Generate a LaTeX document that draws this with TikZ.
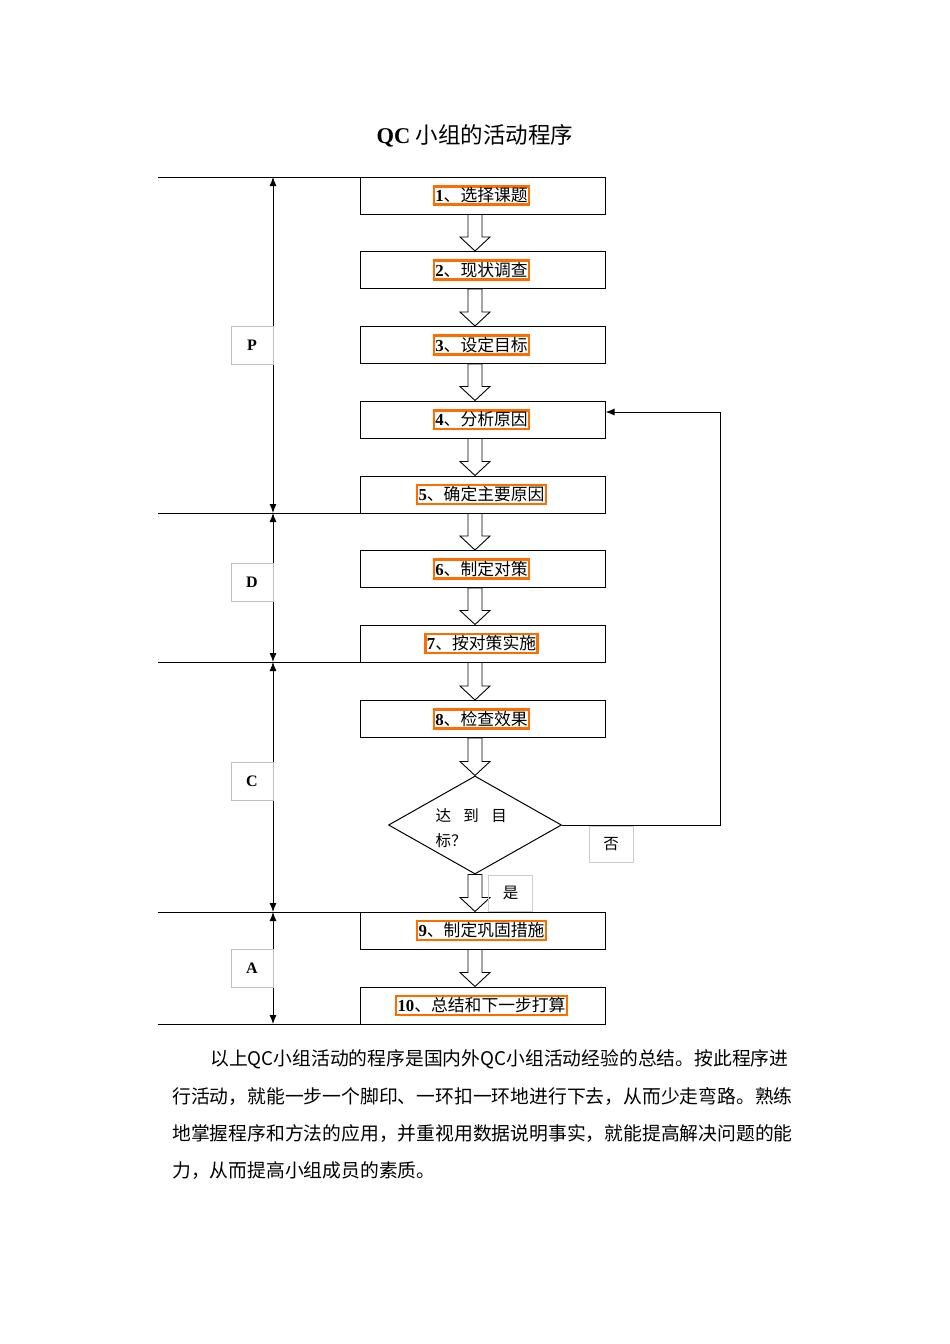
\documentclass[tikz,border=0pt]{standalone}
\usepackage{fontspec}
\setmainfont{Liberation Serif}
\newfontfamily\cjk{Noto Sans CJK SC}
\usetikzlibrary{shapes.geometric,calc,arrows.meta}
\tikzset{
 stepbox/.style={draw,line width=1pt,minimum width=245pt,minimum height=37pt,inner sep=0pt},
 hl/.style={draw=orange!85!red,line width=2.5pt,inner sep=1.5pt,font=\fontsize{16.8}{19}\selectfont},
 phase/.style={draw=black!25,line width=0.6pt,minimum width=42pt,minimum height=38pt,font=\bfseries\fontsize{16}{18}\selectfont},
 lbl/.style={draw=black!20,line width=0.6pt,minimum width=44pt,minimum height=36pt,font=\cjk\fontsize{15.5}{17}\selectfont},
 blockar/.style={draw,line width=0.9pt,fill=white},
 span/.style={line width=0.9pt,{Latex[length=9pt,width=7pt]}-{Latex[length=9pt,width=7pt]}},
 rule/.style={line width=0.9pt},
 para/.style={anchor=west,font=\cjk\fontsize{18.8}{22}\selectfont,inner sep=0pt}
}
\newcommand\barrow[2]{\draw[blockar] let \p1=(#1.south), \p2=(#2.north), \p3=(475,0) in (\x3-7pt,\y1) -- (\x3-7pt,\y2+14pt) -- (\x3-15pt,\y2+14pt) -- (\x3,\y2) -- (\x3+15pt,\y2+14pt) -- (\x3+7pt,\y2+14pt) -- (\x3+7pt,\y1) -- cycle;}
\newcommand\stepnode[4]{\node[stepbox] (#1) at (482.5,#2) {};\node[hl] (#1t) at (481.5,#2) {\textbf{#3}\cjk 、#4};}
\begin{document}
\begin{tikzpicture}[x=1pt,y=-1pt]
\useasboundingbox[fill=white] (0,0) rectangle (950,1344);
\node (title) at (475,136) {\fontsize{22.5}{26}\selectfont\textbf{QC} \cjk 小组的活动程序};
\stepnode{b1}{195.5}{1}{选择课题}
\stepnode{b2}{270}{2}{现状调查}
\stepnode{b3}{345}{3}{设定目标}
\stepnode{b4}{419.5}{4}{分析原因}
\stepnode{b5}{494.5}{5}{确定主要原因}
\stepnode{b6}{569}{6}{制定对策}
\stepnode{b7}{643.5}{7}{按对策实施}
\stepnode{b8}{719}{8}{检查效果}
\stepnode{b9}{930.5}{9}{制定巩固措施}
\stepnode{b10}{1005.5}{10}{总结和下一步打算}
\node[diamond,draw,line width=1pt,minimum width=173pt,minimum height=98pt,aspect=1.77,inner sep=0pt] (d) at (475,825) {};
\node[anchor=west,align=left,font=\cjk\fontsize{15.5}{25}\selectfont] (dt) at (432,828) {达\hspace{0.8em}到\hspace{0.8em}目\\标？};
\foreach \a/\b in {b1/b2,b2/b3,b3/b4,b4/b5,b5/b6,b6/b7,b7/b8,b8/d,d/b9,b9/b10}{\barrow{\a}{\b}}
\coordinate (fb1) at (720,825);
\coordinate (fb2) at (720,412);
\draw[line width=1pt,-{Latex[length=9pt,width=7pt]}] (d.east) -- (fb1) -- (fb2) -- (b4.east |- fb2);
\node[lbl] (no) at (611,844) {否};
\node[lbl] (yes) at (510.5,893) {是};
\foreach \y/\n in {177/l1,513/l2,662/l3,912/l4,1024/l5}{\coordinate (\n) at (158,\y); \coordinate (\n r) at (360,\y); \coordinate (\n m) at (273,\y);}
\foreach \n in {l1,l2,l3,l4,l5}{\draw[rule] (\n) -- (\n r);}
\draw[span] (l1m) -- (l2m);
\draw[span] (l2m) -- (l3m);
\draw[span] (l3m) -- (l4m);
\draw[span] (l4m) -- (l5m);
\node[phase] (P) at (252,345) {P};
\node[phase] (D) at (252,582) {D};
\node[phase] (C) at (252,781) {C};
\node[phase] (A) at (252,968.5) {A};
\node[para] (p1) at (210,1059) {以上QC小组活动的程序是国内外QC小组活动经验的总结。按此程序进};
\node[para] (p2) at (172,1096) {行活动，就能一步一个脚印、一环扣一环地进行下去，从而少走弯路。熟练};
\node[para] (p3) at (172,1134) {地掌握程序和方法的应用，并重视用数据说明事实，就能提高解决问题的能};
\node[para] (p4) at (172,1171) {力，从而提高小组成员的素质。};
\end{tikzpicture}
\end{document}
